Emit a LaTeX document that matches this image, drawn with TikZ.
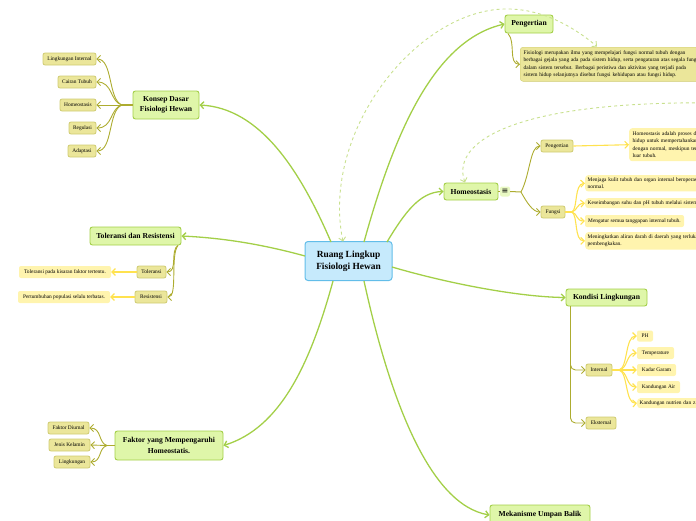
\documentclass[tikz,border=0pt]{standalone}
\usepackage{fontspec}
\setmainfont{Liberation Serif}
\newfontfamily\symfont{DejaVu Sans}
\usetikzlibrary{arrows.meta}
\definecolor{rootfill}{HTML}{C6EAFC}
\definecolor{rootline}{HTML}{62BDE9}
\definecolor{mainfill}{HTML}{DFF6A9}
\definecolor{mainline}{HTML}{A3CF48}
\definecolor{subfill}{HTML}{EBE69A}
\definecolor{subline}{HTML}{CFCB72}
\definecolor{notefill}{HTML}{FFF4AE}
\definecolor{branch}{HTML}{ADAC30}
\definecolor{noteline}{HTML}{FFE24F}
\definecolor{linkline}{HTML}{C8E08E}
\tikzset{>={Straight Barb[length=3.5pt,width=7pt]}}
\tikzset{
  rootnode/.style={draw=rootline, fill=rootfill, line width=1pt, rounded corners=3pt, inner sep=0pt, align=center, font=\fontsize{9.4}{12}\selectfont\bfseries},
  mainnode/.style={draw=mainline, fill=mainfill, line width=0.9pt, rounded corners=2.5pt, inner sep=0pt, align=center, font=\fontsize{7.6}{10.5}\selectfont\bfseries},
  subnode/.style={draw=subline, fill=subfill, line width=0.8pt, rounded corners=2pt, inner sep=0pt, align=center, font=\fontsize{5.4}{7}\selectfont},
  notenode/.style={fill=notefill, rounded corners=2pt, inner sep=0pt, align=center, font=\fontsize{5.4}{7}\selectfont},
  longnode/.style={rounded corners=3pt, inner sep=3.5pt, anchor=north west, align=left, text width=#1, font=\fontsize{5.4}{7.4}\selectfont},
  mainedge/.style={draw=mainline, line width=1.3pt, ->},
  subedge/.style={draw=branch, line width=0.9pt, ->},
  noteedge/.style={draw=noteline, line width=1.1pt, ->},
  linkedge/.style={draw=linkline, line width=0.9pt, dashed, <->}
}
\begin{document}
\begin{tikzpicture}[x=1pt, y=-1pt]
  \useasboundingbox (0,0) rectangle (696,520);
  \clip (0,0) rectangle (696,520);
  % centre
  \node[rootnode, minimum width=87pt, minimum height=39pt] (root) at (348.5,261) {Ruang Lingkup\\Fisiologi Hewan};
  % right side
  \node[mainnode, minimum width=48pt, minimum height=18pt] (pengertian) at (529,24) {Pengertian};
  \node[longnode=190pt, fill=subfill, draw=subline, line width=0.4pt] (definisi) at (520,47) {Fisiologi merupakan ilmu yang mempelajari fungsi normal tubuh dengan\\berbagai gejala yang ada pada sistem hidup, serta pengaturan atas segala fungsi\\dalam sistem tersebut. Berbagai peristiwa dan aktivitas yang terjadi pada\\sistem hidup selanjutnya disebut fungsi kehidupan atau fungsi hidup.};
  \node[mainnode, minimum width=54pt, minimum height=17pt] (homeo) at (471,191.5) {Homeostasis};
  \node[fill=mainfill!70!white, rounded corners=2pt, inner sep=0pt, minimum width=10pt, minimum height=10pt, font=\fontsize{8}{8}\symfont] (badge) at (505,191.5) {≡};
  \coordinate (homeosplit) at (521,192);
  \node[subnode, minimum width=32pt, minimum height=12pt] (homeodef) at (557,146) {Pengertian};
  \node[subnode, minimum width=24pt, minimum height=12pt] (fungsi) at (553,212) {Fungsi};
  \node[longnode=120pt, fill=notefill] (homeotext) at (629,128) {Homeostasis adalah proses d\\hidup untuk mempertahankan\\dengan normal, meskipun ter\\luar tubuh.};
  \node[longnode=160pt, fill=notefill, inner sep=2.5pt] (fungsia) at (585,175) {Menjaga kulit tubuh dan organ internal beroperasi\\normal.};
  \node[longnode=160pt, fill=notefill, inner sep=2.5pt] (fungsib) at (585,198) {Keseimbangan suhu dan pH tubuh melalui sistem};
  \node[notenode, minimum width=99pt, minimum height=12pt] (fungsic) at (634.5,221) {Mengatur semua tanggapan internal tubuh.};
  \node[longnode=160pt, fill=notefill, inner sep=2.5pt] (fungsid) at (585,232) {Meningkatkan aliran darah di daerah yang terluka\\pembengkakan.};
  \node[mainnode, minimum width=81pt, minimum height=17pt] (kondisi) at (606.5,297.5) {Kondisi Lingkungan};
  \coordinate (kondisitrunk) at (570.5,306);
  \node[subnode, minimum width=26pt, minimum height=12pt] (internal) at (599,370) {Internal};
  \node[subnode, minimum width=30pt, minimum height=12pt] (eksternal) at (601,423) {Eksternal};
  \node[notenode, minimum width=16pt, minimum height=11pt] (ph) at (645,336) {PH};
  \node[notenode, minimum width=37pt, minimum height=12pt] (suhu) at (655.5,353) {Temperature};
  \node[notenode, minimum width=39pt, minimum height=12pt] (garam) at (656.5,370) {Kadar Garam};
  \node[notenode, minimum width=43pt, minimum height=12pt] (air) at (658.5,387) {Kandungan Air};
  \node[longnode=90pt, fill=notefill, inner sep=2.5pt] (nutrien) at (637,398) {Kandungan nutrien dan z};
  \node[mainnode, minimum width=100pt, minimum height=20pt] (umpan) at (540,515) {Mekanisme Umpan Balik};
  % left side
  \node[mainnode, minimum width=66pt, minimum height=28pt] (konsep) at (166,105) {Konsep Dasar\\Fisiologi Hewan};
  \node[subnode, minimum width=53pt, minimum height=12pt] (lingint) at (69.5,59) {Lingkungan Internal};
  \node[subnode, minimum width=38pt, minimum height=12pt] (cairan) at (77,82) {Cairan Tubuh};
  \node[subnode, minimum width=36pt, minimum height=12pt] (homeost) at (78,105) {Homeostasis};
  \node[subnode, minimum width=27pt, minimum height=12pt] (regulasi) at (82.5,128) {Regulasi};
  \node[subnode, minimum width=28pt, minimum height=12pt] (adaptasi) at (82,151) {Adaptasi};
  \coordinate (konsepsplit) at (122,105);
  \node[mainnode, minimum width=91pt, minimum height=18pt] (toleransi) at (135.5,236) {Toleransi dan Resistensi};
  \node[subnode, minimum width=29pt, minimum height=12pt] (tol) at (151.5,272) {Toleransi};
  \node[subnode, minimum width=32pt, minimum height=12pt] (res) at (151,297) {Resistensi};
  \node[notenode, minimum width=92pt, minimum height=12pt] (toltext) at (65,272) {Toleransi pada kisaran faktor tertentu.};
  \node[notenode, minimum width=92pt, minimum height=12pt] (restext) at (64,297) {Pertumbuhan populasi selalu terbatas.};
  \node[mainnode, minimum width=108pt, minimum height=29pt] (faktor) at (169,445.5) {Faktor yang Mempengaruhi\\Homeostatis.};
  \node[subnode, minimum width=41pt, minimum height=12pt] (diurnal) at (68.5,428) {Faktor Diurnal};
  \node[subnode, minimum width=41pt, minimum height=12pt] (kelamin) at (69.5,445) {Jenis Kelamin};
  \node[subnode, minimum width=36pt, minimum height=12pt] (lingk) at (72,462) {Lingkungan};
  \coordinate (faktorsplit) at (107,445.5);
  % main branches
  \draw[mainedge] (364,242) .. controls (395,130) and (435,40) .. (pengertian.west);
  \draw[mainedge] (331,242) .. controls (300,170) and (260,108) .. (konsep.east);
  \draw[mainedge] (387,242) .. controls (405,212) and (420,192) .. (homeo.west);
  \draw[mainedge] (305,256) .. controls (265,245) and (225,238) .. (toleransi.east);
  \draw[mainedge] (392,267) .. controls (450,284) and (520,297) .. (kondisi.west);
  \draw[mainedge] (333,281) .. controls (310,365) and (280,428) .. (faktor.east);
  \draw[mainedge] (364,281) .. controls (390,400) and (430,505) .. (umpan.west);
  % dashed links
  \draw[linkedge] (343,241.5) .. controls (320,130) and (420,6) .. (510,9) .. controls (545,10) and (575,28) .. (597,46.5);
  \draw[linkedge] (465,182.5) .. controls (450,140) and (520,100) .. (720,103);
  % Pengertian
  \draw[subedge] (508,33.5) .. controls (516,42) and (508,64) .. (definisi.west);
  % Homeostasis
  \draw[draw=branch, line width=0.8pt] (homeo.east) -- (badge.west);
  \draw[draw=branch, line width=1pt] (badge.east) -- (homeosplit);
  \draw[subedge] (homeosplit) .. controls (530,175) and (530,146) .. (homeodef.west);
  \draw[subedge] (homeosplit) .. controls (527,203) and (533,212) .. (fungsi.west);
  \draw[noteedge] (homeodef.east) -- (homeotext.west);
  \coordinate (fungsisplit) at (572,212);
  \draw[draw=noteline, line width=1.2pt] (fungsi.east) -- (fungsisplit);
  \draw[noteedge] (fungsisplit) .. controls (578,208) and (574,184) .. (fungsia.west);
  \draw[noteedge] (fungsisplit) .. controls (578,210) and (576,204) .. (fungsib.west);
  \draw[noteedge] (fungsisplit) .. controls (578,214) and (576,221) .. (fungsic.west);
  \draw[noteedge] (fungsisplit) .. controls (578,216) and (574,241) .. (fungsid.west);
  % Kondisi
  \draw[subedge, rounded corners=5pt] (kondisitrunk) -- (570.5,370) -- (internal.west);
  \draw[subedge, rounded corners=5pt] (kondisitrunk) -- (570.5,423) -- (eksternal.west);
  \coordinate (internalsplit) at (619,370);
  \draw[draw=noteline, line width=1.2pt] (internal.east) -- (internalsplit);
  \draw[noteedge] (internalsplit) .. controls (628,368) and (625,336) .. (ph.west);
  \draw[noteedge] (internalsplit) .. controls (628,369) and (626,353) .. (suhu.west);
  \draw[noteedge] (internalsplit) -- (garam.west);
  \draw[noteedge] (internalsplit) .. controls (628,371) and (626,387) .. (air.west);
  \draw[noteedge] (internalsplit) .. controls (628,372) and (625,404) .. (nutrien.west);
  % Konsep
  \draw[draw=branch, line width=1.1pt] (konsep.west) -- (konsepsplit);
  \draw[subedge] (konsepsplit) .. controls (108,100) and (113,59) .. (lingint.east);
  \draw[subedge] (konsepsplit) .. controls (110,102) and (113,82) .. (cairan.east);
  \draw[subedge] (konsepsplit) -- (homeost.east);
  \draw[subedge] (konsepsplit) .. controls (110,108) and (113,128) .. (regulasi.east);
  \draw[subedge] (konsepsplit) .. controls (108,110) and (113,151) .. (adaptasi.east);
  % Toleransi
  \draw[subedge] (178,245.5) .. controls (170,250) and (178,272) .. (tol.east);
  \draw[subedge] (178,245.5) .. controls (170,255) and (178,297) .. (res.east);
  \draw[noteedge] (tol.west) -- (toltext.east);
  \draw[noteedge] (res.west) -- (restext.east);
  % Faktor
  \draw[draw=branch, line width=0.9pt] (faktor.west) -- (faktorsplit);
  \draw[subedge] (faktorsplit) .. controls (98,443) and (102,428) .. (diurnal.east);
  \draw[subedge] (faktorsplit) -- (kelamin.east);
  \draw[subedge] (faktorsplit) .. controls (98,448) and (102,462) .. (lingk.east);
\end{tikzpicture}
\end{document}
